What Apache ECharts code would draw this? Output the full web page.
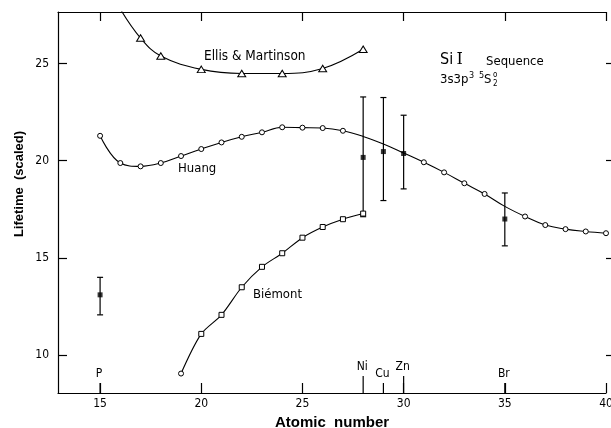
<!DOCTYPE html>
<html>
<head>
<meta charset="utf-8">
<script src="https://cdn.jsdelivr.net/npm/echarts@6/dist/echarts.min.js"></script>
<style>
  html, body { margin: 0; padding: 0; background: #fff; }
  #chart { width: 611px; height: 428px; }
</style>
</head>
<body>
<div id="chart"></div>
<script>
// Huang curve (open circles)
const huangZ = [15, 16, 17, 18, 19, 20, 21, 22, 23, 24, 25, 26, 27, 28, 29, 30, 31, 32, 33, 34, 35, 36, 37, 38, 39, 40]
const huangVals = [21.28, 19.88, 19.71, 19.88, 20.24, 20.6, 20.94, 21.23, 21.46, 21.72, 21.7, 21.68, 21.54,
  21.25, 20.86, 20.4, 19.92, 19.4, 18.84, 18.29, 17.65, 17.13, 16.69, 16.48, 16.36, 16.27]
const huangNoMark = [28, 29, 30, 35]

// Biémont curve (open squares)
const biemontZ = [19, 20, 21, 22, 23, 24, 25, 26, 27, 28]
const biemontVals = [9.05, 11.09, 12.07, 13.49, 14.54, 15.24, 16.04, 16.59, 16.99, 17.28]

// Ellis & Martinson curve (open triangles)
const ellisZ = [16, 17, 18, 20, 22, 24, 26, 28]
const ellisVals = [27.8, 26.31, 25.39, 24.7, 24.49, 24.49, 24.74, 25.73]

// experiment with error bars
const expZ = [15, 28, 29, 30, 35]
const expVals = [13.1, 20.17, 20.47, 20.37, 17.0]
const expLow = [12.07, 17.12, 17.95, 18.55, 15.62]
const expHigh = [14.0, 23.28, 23.25, 22.34, 18.34]

// element markers on the axis
const elemNames = ['P', 'Ni', 'Cu', 'Zn', 'Br']
const elemZ = [15, 28, 29, 30, 35]
const elemLevel = [0, 1, 0, 1, 0]

const xTicks = [15, 20, 25, 30, 35, 40]
const yTicks = [10, 15, 20, 25]

const X_MIN = 12.92, X_MAX = 40
const Y_MIN = 8.05, Y_MAX = 27.65

const NARROW = "'DejaVu Sans Condensed', 'Liberation Sans Narrow', 'DejaVu Sans', sans-serif"
const BOLD = "'Liberation Sans', Arial, sans-serif"

const chart = echarts.init(document.getElementById('chart'), null, { renderer: 'canvas' })

function renderErr(params, api) {
  const x = api.value(0)
  const lo = api.coord([x, api.value(1)])
  const hi = api.coord([x, api.value(2)])
  const w = 3
  const st = { stroke: '#000', lineWidth: 1.2 }
  return {
    type: 'group',
    children: [
      { type: 'line', shape: { x1: lo[0], y1: lo[1], x2: hi[0], y2: hi[1] }, style: st },
      { type: 'line', shape: { x1: lo[0] - w, y1: lo[1], x2: lo[0] + w, y2: lo[1] }, style: st },
      { type: 'line', shape: { x1: hi[0] - w, y1: hi[1], x2: hi[0] + w, y2: hi[1] }, style: st },
    ],
  }
}

function renderElem(params, api) {
  const z = api.value(0)
  const lvl = api.value(1)
  const bottom = params.coordSys.y + params.coordSys.height
  const px = api.coord([z, Y_MIN])[0]
  const len = lvl ? 17 : 10
  return {
    type: 'group',
    children: [
      { type: 'line', shape: { x1: px, y1: bottom, x2: px, y2: bottom - len }, style: { stroke: '#000', lineWidth: 1.2 } },
      {
        type: 'text', x: px - 1, y: bottom - len - 3,
        style: { text: elemNames[params.dataIndex], align: 'center', verticalAlign: 'bottom', font: '12px ' + NARROW, fill: '#000' },
      },
    ],
  }
}

const axisCommon = {
  type: 'value',
  axisLine: { show: true, lineStyle: { color: '#000', width: 1.2 } },
  splitLine: { show: false },
}

function txt(text, x, y, size, extra) {
  return {
    type: 'text', x: x, y: y,
    style: Object.assign({ text: text, align: 'left', verticalAlign: 'middle', font: size + 'px ' + NARROW, fill: '#000' }, extra || {}),
  }
}

const option = {
  backgroundColor: '#fff',
  animation: false,
  grid: { left: 58, right: 5, top: 12, bottom: 35, outerBoundsMode: 'none' },
  xAxis: [
    Object.assign({}, axisCommon, {
      position: 'bottom', min: X_MIN, max: X_MAX,
      name: 'Atomic  number', nameLocation: 'middle', nameGap: 22,
      nameTextStyle: { fontFamily: BOLD, fontWeight: 'bold', fontSize: 15, color: '#000' },
      axisTick: { show: true, inside: true, length: 10, customValues: xTicks, lineStyle: { color: '#000', width: 1.2 } },
      axisLabel: { customValues: xTicks, margin: 5, color: '#000', fontFamily: NARROW, fontSize: 12 },
    }),
    Object.assign({}, axisCommon, {
      position: 'top', min: X_MIN, max: X_MAX,
      axisTick: { show: true, inside: true, length: 9, customValues: xTicks, lineStyle: { color: '#000', width: 1.2 } },
      axisLabel: { show: false },
    }),
  ],
  yAxis: [
    Object.assign({}, axisCommon, {
      position: 'left', min: Y_MIN, max: Y_MAX,
      axisTick: { show: true, inside: true, length: 9, customValues: yTicks, lineStyle: { color: '#000', width: 1.2 } },
      axisLabel: { customValues: yTicks, margin: 9, color: '#000', fontFamily: NARROW, fontSize: 12 },
    }),
    Object.assign({}, axisCommon, {
      position: 'right', min: Y_MIN, max: Y_MAX,
      axisLine: { show: false },
      axisTick: { show: true, inside: false, length: 6, customValues: yTicks, lineStyle: { color: '#000', width: 1.2 } },
      axisLabel: { show: false },
    }),
  ],
  series: [
    {
      name: 'Ellis & Martinson', type: 'line', smooth: 0.4,
      data: ellisZ.map((z, i) => (i === 0 ? { value: [z, ellisVals[i]], symbol: 'none' } : [z, ellisVals[i]])),
      symbol: 'triangle', symbolSize: [8, 6.5], showAllSymbol: true,
      lineStyle: { color: '#000', width: 1.1 },
      itemStyle: { color: '#fff', borderColor: '#000', borderWidth: 1 },
    },
    {
      name: 'Huang', type: 'line', smooth: 0.4,
      data: huangZ.map((z, i) => (huangNoMark.includes(z) ? { value: [z, huangVals[i]], symbol: 'none' } : [z, huangVals[i]])),
      symbol: 'circle', symbolSize: 5, showAllSymbol: true,
      lineStyle: { color: '#000', width: 1.1 },
      itemStyle: { color: '#fff', borderColor: '#000', borderWidth: 1 },
    },
    {
      name: 'Biémont', type: 'line', smooth: 0.3,
      data: biemontZ.map((z, i) => (i === 0 ? { value: [z, biemontVals[i]], symbol: 'circle', symbolSize: 5 } : [z, biemontVals[i]])),
      symbol: 'rect', symbolSize: 5, showAllSymbol: true,
      lineStyle: { color: '#000', width: 1.1 },
      itemStyle: { color: '#fff', borderColor: '#000', borderWidth: 1 },
    },
    {
      name: 'errors', type: 'custom', renderItem: renderErr, clip: false,
      data: expZ.map((z, i) => [z, expLow[i], expHigh[i]]),
      z: 3,
    },
    {
      name: 'experiment', type: 'scatter', symbol: 'rect', symbolSize: 5,
      data: expZ.map((z, i) => [z, expVals[i]]),
      itemStyle: { color: '#000' }, z: 4,
    },
    {
      name: 'elements', type: 'custom', renderItem: renderElem, clip: false,
      data: elemZ.map((z, i) => [z, elemLevel[i]]),
    },
  ],
  graphic: [
    {
      type: 'text', x: 19, y: 184, rotation: Math.PI / 2,
      style: { text: 'Lifetime  (scaled)', align: 'center', verticalAlign: 'middle', font: 'bold 13px ' + BOLD, fill: '#000' },
    },
    txt('Ellis & Martinson', 204, 56, 13.5),
    txt('Huang', 178, 169, 13),
    txt('Biémont', 253, 295, 13),
    {
      type: 'text', x: 440, y: 60,
      style: {
        text: '{a|Si} {b|I}', align: 'left', verticalAlign: 'middle', fill: '#000',
        rich: {
          a: { fontFamily: NARROW, fontSize: 16, color: '#000' },
          b: { fontFamily: "'DejaVu Serif', serif", fontSize: 16, color: '#000' },
        },
      },
    },
    txt('Sequence', 486, 62, 13),
    txt('3s3p', 440, 80, 13),
    txt('3', 469, 76, 9),
    txt('5', 479, 76, 9),
    txt('S', 484, 80, 13),
    txt('o', 493, 75, 8),
    txt('2', 493, 84, 8),
  ],
}

chart.setOption(option)
</script>
</body>
</html>
